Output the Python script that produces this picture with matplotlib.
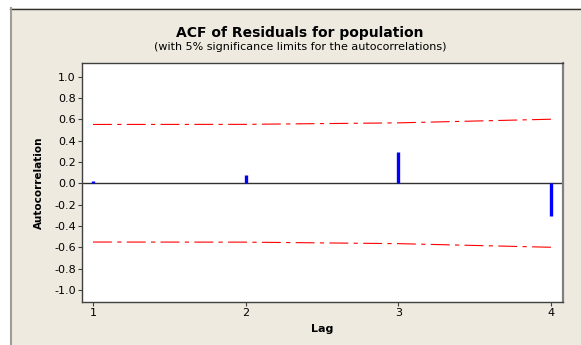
import numpy as np
import matplotlib
matplotlib.use('Agg')
import matplotlib.pyplot as plt
from matplotlib.patches import Rectangle
from matplotlib.lines import Line2D

plt.rcParams['font.family'] = 'DejaVu Sans'
plt.rcParams['axes.unicode_minus'] = False

# ACF values
lags = [1, 2, 3, 4]
acf = [0.02, 0.075, 0.294, -0.307]
upper_limit = [0.551, 0.552, 0.566, 0.600]
lower_limit = [-0.551, -0.552, -0.566, -0.600]
y_ticks = [1.0, 0.8, 0.6, 0.4, 0.2, 0.0, -0.2, -0.4, -0.6, -0.8, -1.0]

W, H = 581, 345
fig = plt.figure(figsize=(W / 100, H / 100), dpi=100)
fig.patch.set_facecolor('white')

# Minitab-like beige panel with border on top/left
beige = '#EEEAE0'
fig.patches.append(Rectangle((10 / W, 0), 1 - 10 / W, (H - 8) / H,
                             transform=fig.transFigure, facecolor=beige,
                             edgecolor='none', zorder=-10))
fig.lines.append(Line2D([10 / W, 1], [(H - 8.5) / H, (H - 8.5) / H],
                        transform=fig.transFigure, color='#303030', lw=1.0, zorder=-5))
fig.lines.append(Line2D([11 / W, 11 / W], [0, (H - 8) / H],
                        transform=fig.transFigure, color='#a09c96', lw=1.5, zorder=-5))

ax = fig.add_axes([82 / W, 43 / H, (563 - 82) / W, (302 - 63) / H])
ax.set_zorder(5)
ax.set_facecolor('white')

ax.axhline(0, color='#303030', lw=1.0, zorder=2)
ax.vlines(lags, 0, acf, color='#0000FF', lw=2.4, zorder=3)

dash = (0, (17, 4.8, 3.8, 4.8))
ax.plot(lags, upper_limit, color='#FF0000', lw=0.8, linestyle=dash, zorder=2)
ax.plot(lags, lower_limit, color='#FF0000', lw=0.8, linestyle=dash, zorder=2)

ax.set_xlim(0.928, 4.079)
ax.set_ylim(-1.113, 1.127)
ax.set_xticks(lags)
ax.set_xticklabels([str(l) for l in lags])
ax.set_yticks(y_ticks)
ax.set_yticklabels([f'{v:.1f}' for v in y_ticks])
ax.tick_params(axis='both', direction='out', length=3, width=0.8,
               color='#404040', labelsize=8, pad=1.5)

for side in ['left', 'top', 'bottom']:
    ax.spines[side].set_color('#404040')
    ax.spines[side].set_linewidth(1.0)
ax.spines['right'].set_color('#808080')
ax.spines['right'].set_linewidth(1.6)

ax.set_xlabel('Lag', fontsize=8, fontweight='bold', labelpad=4)
ax.set_ylabel('Autocorrelation', fontsize=7.5, fontweight='bold', labelpad=7.5)

fig.text(300 / W, (H - 33) / H, 'ACF of Residuals for population',
         ha='center', va='center', fontsize=10, fontweight='bold')
fig.text(300 / W, (H - 47) / H, '(with 5% significance limits for the autocorrelations)',
         ha='center', va='center', fontsize=8)

fig.savefig('out.png', dpi=100)
